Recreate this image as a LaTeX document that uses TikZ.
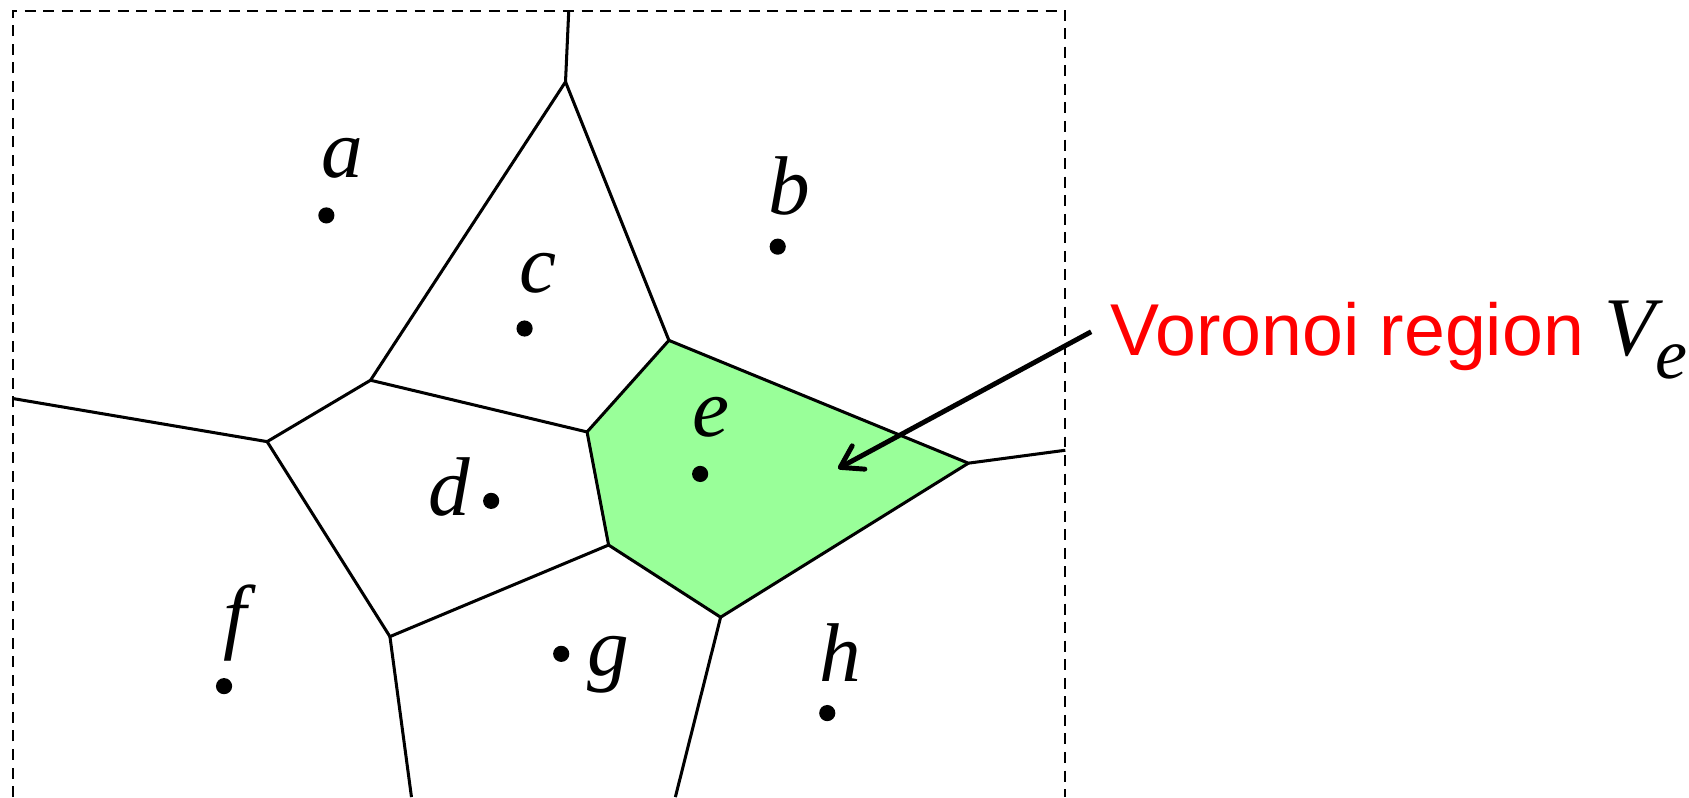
\documentclass[tikz,border=0pt]{standalone}
\usepackage{fontspec}
\setmainfont{Liberation Serif}
\newfontfamily\lsi{LiberationSerif-Italic.ttf}
\newfontfamily\arialfont{Liberation Sans}
\usetikzlibrary{arrows.meta}
\definecolor{vgreen}{RGB}{153,255,153}
\definecolor{vred}{RGB}{255,0,0}
\begin{document}
\begin{tikzpicture}[x=0.01cm,y=-0.01cm,
  edge/.style={line width=0.8pt, line join=miter},
  site/.style={circle, fill=black, inner sep=0pt, minimum size=0.15cm},
  lbl/.style={font=\lsi\fontsize{22}{26}\selectfont, anchor=base, inner sep=0pt},
  frame/.style={line width=0.6pt, dash pattern=on 2.9pt off 2pt}]
\useasboundingbox (0,0) rectangle (1568,740);
% Voronoi vertices
\coordinate (T) at (528,10);
\coordinate (V1) at (525,76);
\coordinate (V2) at (344,353);
\coordinate (V3) at (248,410);
\coordinate (V4) at (545,401);
\coordinate (V5) at (621,316);
\coordinate (V6) at (899,430);
\coordinate (V7) at (565,506);
\coordinate (V8) at (669,573);
\coordinate (V9) at (362,591);
\coordinate (L) at (12,370);
\coordinate (R) at (989,418);
\coordinate (B1) at (382,740);
\coordinate (B2) at (627,740);
% region V_e
\fill[vgreen] (V5) -- (V6) -- (V8) -- (V7) -- (V4) -- cycle;
% frame
\draw[frame] (12,740) -- (12,10) -- (989,10) -- (989,740);
% edges
\draw[edge] (T) -- (V1);
\draw[edge] (V2) -- (V1) -- (V5);
\draw[edge] (L) -- (V3) -- (V2) -- (V4) -- (V5) -- (V6) -- (R);
\draw[edge] (V4) -- (V7) -- (V8) -- (V6);
\draw[edge] (V7) -- (V9) -- (V3);
\draw[edge] (V9) -- (B1);
\draw[edge] (V8) -- (B2);
% sites
\node[site] (a) at (303,200) {};
\node[site] (b) at (722,229) {};
\node[site] (c) at (487,305) {};
\node[site] (d) at (456,465) {};
\node[site] (e) at (650,440) {};
\node[site] (f) at (208,637) {};
\node[site] (g) at (521,607) {};
\node[site] (h) at (768,662) {};
% labels
\node[lbl] (la) at (318,165) {a};
\node[lbl] (lb) at (733,199) {b};
\node[lbl] (lc) at (499,272) {c};
\node[lbl] (ld) at (417,479) {d};
\node[lbl] (le) at (660,405) {e};
\node[lbl] (lf) at (218,597) {f};
\node[lbl] (lg) at (565,627) {g};
\node[lbl] (lh) at (780,633) {h};
% annotation
\coordinate (As) at (1013,308);
\coordinate (Ae) at (778,435);
\draw[line width=1.3pt, -{Straight Barb[length=5.5pt,width=7pt,round]}] (As) -- (Ae);
\node[anchor=base west, inner sep=0pt, font=\arialfont\fontsize{19.4}{23}\selectfont, text=vred] (txt) at (1030,330)
  {Voronoi region \textcolor{black}{\lsi\fontsize{22}{26}\selectfont V\raisebox{-6pt}{\fontsize{19}{22}\selectfont e}}};
\end{tikzpicture}
\end{document}
